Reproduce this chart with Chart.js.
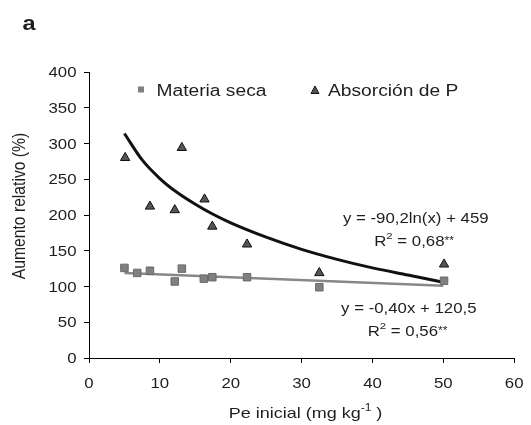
<!DOCTYPE html>
<html><head><meta charset="utf-8">
<script src="https://cdn.jsdelivr.net/npm/chart.js@4/dist/chart.umd.min.js"></script>
<style>html,body{margin:0;padding:0;background:#fff}#wrap{width:531px;height:425px}</style>
</head><body><div id="wrap"><canvas id="c" width="531" height="425"></canvas></div>
<script>
// Data
const materiaX = [5, 6.8, 8.6, 12.1, 13.1, 16.2, 17.4, 22.3, 32.5, 50.1];
const materiaY = [126, 119, 122, 107, 125, 111, 113, 113, 99, 108];
const absorcionX = [5.1, 8.6, 12.1, 13.1, 16.3, 17.4, 22.3, 32.5, 50.1];
const absorcionY = [280, 212, 207, 294, 222, 184, 159, 119, 131];
// Trend curve (Absorción de P)
const curveX = [5, 7.5, 10, 12.5, 15, 17.5, 20, 25, 30, 35, 40, 45, 50];
const curveY = [314, 277, 251, 231, 215, 201, 189, 169, 152, 138, 126, 116, 106];
// Trend line (Materia seca) end points
const lineX = [5, 50];
const lineY = [119, 101];
const xTickLabels = ['0', '10', '20', '30', '40', '50', '60'];
const yTickLabels = ['0', '50', '100', '150', '200', '250', '300', '350', '400'];
const legendLabels = ['Materia seca', 'Absorción de P'];
const eq1 = 'y = -90,2ln(x) + 459';
const r1 = '0,68';
const eq2 = 'y = -0,40x + 120,5';
const r2 = '0,56';
const panelLabel = 'a';
const yTitle = 'Aumento relativo (%)';
const xTitleMain = 'Pe inicial (mg kg';
const xTitleSup = '-1';
const xTitleEnd = ' )';

const pts = (xs, ys) => xs.map((x, i) => ({x, y: ys[i]}));
const FONT = '"Liberation Sans", Arial, sans-serif';
const TXT = '#1e1e1e';
const SX = 1.2; // horizontal stretch of the reference text

function fontOf(p) { return (p.bold ? 'bold ' : '') + p.size + 'px ' + FONT; }
function partsWidth(ctx, parts) {
  let w = 0;
  parts.forEach(p => { ctx.font = fontOf(p); w += ctx.measureText(p.t).width; });
  return w;
}
// align: 'left' | 'center' | 'right'
function drawParts(ctx, parts, ax, base, align, sx) {
  sx = sx || SX;
  const w = partsWidth(ctx, parts) * sx;
  let x0 = align === 'center' ? ax - w / 2 : align === 'right' ? ax - w : ax;
  ctx.save();
  ctx.translate(x0, base);
  ctx.scale(sx, 1);
  ctx.textAlign = 'left';
  ctx.textBaseline = 'alphabetic';
  let x = 0;
  parts.forEach(p => {
    ctx.font = fontOf(p);
    ctx.fillText(p.t, x, p.dy || 0);
    x += ctx.measureText(p.t).width;
  });
  ctx.restore();
}

const annot = {
  id: 'annot',
  afterDraw(chart) {
    const ctx = chart.ctx;
    const xs = chart.scales.x, ys = chart.scales.y;
    ctx.save();
    ctx.fillStyle = TXT;
    // tick labels (positions from the library's scales)
    xs.ticks.forEach((t, i) => {
      const lbl = xTickLabels[i] !== undefined ? xTickLabels[i] : String(t.value);
      drawParts(ctx, [{t: lbl, size: 14}], xs.getPixelForValue(t.value), 388, 'center');
    });
    ys.ticks.forEach((t, i) => {
      const lbl = yTickLabels[i] !== undefined ? yTickLabels[i] : String(t.value);
      drawParts(ctx, [{t: lbl, size: 14}], 76.5, ys.getPixelForValue(t.value) + 5, 'right');
    });
    // y title (rotated; glyph height stretched horizontally)
    ctx.save();
    ctx.translate(25, 206);
    ctx.rotate(-Math.PI / 2);
    ctx.scale(1, 1.15);
    ctx.font = '15.7px ' + FONT;
    ctx.textAlign = 'center'; ctx.textBaseline = 'alphabetic';
    ctx.fillText(yTitle, 0, 0);
    ctx.restore();
    // x title
    drawParts(ctx, [{t: xTitleMain, size: 15}, {t: xTitleSup, size: 10, dy: -7}, {t: xTitleEnd, size: 15}], 305.5, 418, 'center');
    // panel label
    drawParts(ctx, [{t: panelLabel, size: 21, bold: true}], 22.5, 30, 'left', 1.12);
    // legend
    ctx.fillStyle = '#808080';
    ctx.fillRect(138, 86.5, 6, 6);
    ctx.fillStyle = '#555';
    ctx.strokeStyle = '#111'; ctx.lineWidth = 1;
    ctx.beginPath(); ctx.moveTo(315, 86); ctx.lineTo(319, 93.5); ctx.lineTo(311, 93.5); ctx.closePath();
    ctx.fill(); ctx.stroke();
    ctx.fillStyle = TXT;
    drawParts(ctx, [{t: legendLabels[0], size: 16}], 156.5, 96, 'left');
    drawParts(ctx, [{t: legendLabels[1], size: 16}], 328, 96, 'left');
    // equations
    drawParts(ctx, [{t: eq1, size: 14}], 415.8, 222.5, 'center');
    drawParts(ctx, [{t: 'R', size: 14}, {t: '2', size: 9.5, dy: -7}, {t: ' = ' + r1, size: 14}, {t: '**', size: 10, dy: -2}], 414, 245.5, 'center');
    drawParts(ctx, [{t: eq2, size: 14}], 408.8, 312.5, 'center');
    drawParts(ctx, [{t: 'R', size: 14}, {t: '2', size: 9.5, dy: -7}, {t: ' = ' + r2, size: 14}, {t: '**', size: 10, dy: -2}], 407.5, 335.5, 'center');
    ctx.restore();
  }
};

new Chart(document.getElementById('c'), {
  type: 'scatter',
  data: {
    datasets: [
      {label: legendLabels[0], data: pts(materiaX, materiaY), pointStyle: 'rect', pointRadius: 5.3,
       backgroundColor: '#808080', borderColor: '#6a6a6a', borderWidth: 1, order: 1},
      {label: legendLabels[1], data: pts(absorcionX, absorcionY), pointStyle: 'triangle', pointRadius: 5.4,
       backgroundColor: '#555', borderColor: '#111', borderWidth: 1, order: 0},
      {type: 'line', label: 'log', data: pts(curveX, curveY), showLine: true, pointRadius: 0,
       borderColor: '#111', borderWidth: 3, cubicInterpolationMode: 'monotone', fill: false, order: 2},
      {type: 'line', label: 'lin', data: pts(lineX, lineY), showLine: true, pointRadius: 0,
       borderColor: '#888', borderWidth: 2.5, fill: false, order: 3}
    ]
  },
  options: {
    responsive: false, animation: false, devicePixelRatio: 1,
    layout: {padding: {left: 0, top: 72, right: 12, bottom: 0}},
    plugins: {legend: {display: false}, tooltip: {enabled: false}},
    scales: {
      x: {
        type: 'linear', min: 0, max: 60,
        ticks: {stepSize: 10, font: {family: FONT, size: 14}, color: 'rgba(0,0,0,0)', padding: 9, maxRotation: 0},
        grid: {display: true, drawOnChartArea: false, drawTicks: true, tickLength: 5, color: '#000'},
        border: {display: true, color: '#000', width: 1},
        afterFit: s => { s.height = 67; }
      },
      y: {
        min: 0, max: 400,
        ticks: {stepSize: 50, font: {family: FONT, size: 14}, color: 'rgba(0,0,0,0)', padding: 5},
        grid: {display: true, drawOnChartArea: false, drawTicks: true, tickLength: 5, color: '#000'},
        border: {display: true, color: '#000', width: 1},
        afterFit: s => { s.width = 89; }
      }
    }
  },
  plugins: [annot]
});
</script>
</body></html>
